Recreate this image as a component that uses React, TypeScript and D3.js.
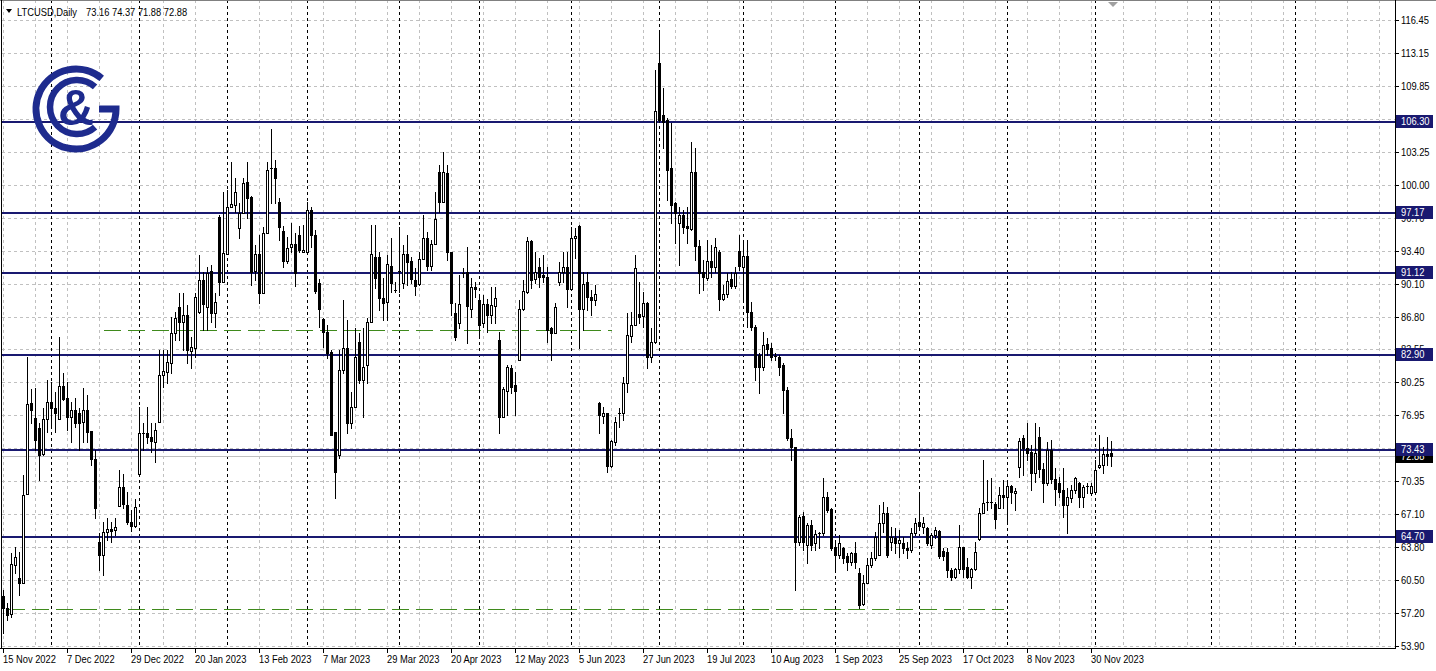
import React from 'react';
import * as d3 from 'd3';

type OHLC = [number, number, number, number]; // open, high, low, close

const symbolLabel = 'LTCUSD,Daily';
const headerValues = ['73.16', '74.37', '71.88', '72.88'];

const nov2022: OHLC[] = [
  [58.85, 59.45, 55.15, 57.65], [57.65, 58.15, 56.45, 56.95], [57.05, 63.15, 56.75, 62.05], [61.95, 63.75, 61.15, 62.75],
  [60.65, 63.25, 58.95, 60.15], [60.15, 70.95, 60.15, 68.95], [69.05, 82.75, 69.05, 78.05], [78.15, 79.55, 76.15, 77.45],
  [76.65, 79.65, 73.45, 74.45], [75.65, 76.15, 70.45, 72.95], [73.05, 77.65, 72.95, 76.55], [76.55, 80.45, 75.25, 78.25],
];
const dec2022: OHLC[] = [
  [78.25, 80.25, 75.65, 77.65], [77.65, 79.25, 75.25, 77.15], [76.55, 84.75, 76.55, 79.85], [79.85, 81.15, 78.45, 78.55],
  [78.65, 80.25, 75.45, 76.75], [76.75, 78.25, 74.25, 77.45], [77.45, 78.65, 75.75, 76.15], [77.15, 77.65, 73.45, 76.15],
  [76.25, 79.65, 74.25, 77.45], [77.45, 78.95, 74.25, 75.25], [75.35, 75.35, 71.95, 72.55], [72.55, 73.45, 66.65, 67.65],
  [64.25, 65.15, 61.45, 62.95], [62.95, 66.25, 60.95, 65.25], [65.25, 66.65, 64.45, 65.55], [65.55, 66.25, 64.25, 65.35],
  [65.45, 66.65, 64.95, 65.75], [67.85, 71.45, 67.85, 69.75], [69.75, 71.05, 67.65, 68.05], [67.95, 69.25, 66.05, 66.25],
  [66.25, 67.45, 65.35, 65.85], [65.85, 68.55, 65.75, 67.75],
];
const jan2023: OHLC[] = [
  [71.05, 77.75, 71.05, 75.15], [75.05, 76.15, 73.45, 75.15], [75.15, 77.75, 74.15, 74.75], [74.75, 76.15, 73.25, 74.35],
  [74.25, 76.15, 72.25, 75.45], [76.25, 83.45, 76.25, 80.95], [80.95, 83.45, 79.75, 81.35], [81.25, 83.45, 80.15, 82.25],
  [82.15, 86.75, 81.15, 85.15], [85.15, 87.25, 84.45, 86.65], [87.75, 89.15, 84.45, 86.25], [86.25, 89.15, 83.45, 86.95],
  [86.95, 87.95, 82.15, 83.45], [83.35, 84.75, 81.65, 83.75], [83.65, 89.15, 82.75, 88.75], [87.25, 92.95, 87.15, 90.45],
  [90.45, 91.25, 85.45, 88.05], [87.75, 91.75, 85.45, 91.15], [91.35, 91.95, 86.25, 87.15], [87.15, 89.15, 85.75, 88.25],
  [96.75, 96.95, 88.95, 90.25], [90.25, 99.25, 90.25, 93.15],
];
const feb2023: OHLC[] = [
  [93.05, 99.45, 93.05, 97.75], [97.75, 102.25, 97.75, 98.05], [97.95, 100.65, 97.25, 99.25], [95.65, 98.15, 94.65, 97.15],
  [97.15, 100.65, 97.15, 100.15], [100.25, 102.25, 96.65, 98.65], [98.75, 98.85, 89.95, 91.25], [91.35, 93.95, 90.45, 93.05],
  [93.05, 94.95, 88.15, 89.15], [89.15, 95.75, 89.15, 95.15], [95.15, 102.25, 95.15, 101.45], [101.55, 105.55, 98.15, 101.65],
  [101.65, 102.45, 98.15, 100.65], [98.25, 98.65, 94.45, 95.75], [95.35, 95.85, 91.75, 92.35], [92.35, 94.75, 92.15, 93.65],
  [93.75, 96.15, 93.25, 94.05], [94.05, 95.15, 89.85, 91.15], [94.95, 95.85, 93.25, 93.45], [93.25, 95.95, 93.25, 93.45],
];
const mar2023: OHLC[] = [
  [93.25, 98.25, 93.15, 97.45], [97.45, 97.75, 93.75, 94.95], [94.95, 95.45, 89.15, 89.35], [90.15, 90.55, 85.75, 87.55],
  [86.55, 86.65, 83.75, 85.25], [85.25, 85.95, 82.65, 83.15], [83.25, 83.45, 74.95, 74.95], [75.25, 75.25, 68.65, 71.25],
  [72.95, 83.45, 72.65, 81.45], [81.45, 88.45, 81.15, 83.65], [83.65, 86.45, 75.15, 76.15], [76.15, 79.25, 75.65, 77.75],
  [77.75, 85.65, 77.75, 82.75], [84.25, 85.15, 80.15, 80.45], [80.45, 85.65, 76.75, 81.75], [81.95, 86.65, 80.15, 86.25],
  [86.25, 95.95, 86.25, 93.05], [92.75, 95.95, 89.65, 90.65], [92.75, 93.25, 87.45, 88.65], [88.65, 90.65, 86.45, 88.15],
  [88.25, 92.95, 86.45, 92.05], [91.85, 94.65, 89.25, 90.15], [89.45, 90.25, 89.25, 89.45],
];
const apr2023: OHLC[] = [
  [91.35, 95.75, 89.25, 91.35], [90.15, 93.95, 89.65, 93.05], [93.05, 94.95, 89.95, 92.25], [92.35, 92.75, 90.15, 90.55],
  [90.45, 91.65, 88.95, 89.85], [90.05, 93.25, 89.95, 92.55], [92.55, 96.95, 92.55, 94.65], [94.65, 95.25, 91.45, 91.85],
  [91.85, 94.45, 91.45, 94.05], [94.05, 99.25, 94.05, 96.55], [101.25, 101.95, 97.25, 98.25], [98.25, 103.25, 98.25, 101.25],
  [101.15, 101.95, 92.45, 93.25], [93.25, 93.25, 86.95, 88.15], [87.15, 88.15, 84.45, 84.75], [86.15, 90.95, 85.65, 88.05],
  [91.15, 91.65, 90.75, 91.15], [91.25, 93.75, 84.15, 87.85], [87.55, 90.65, 86.75, 89.75], [89.75, 90.25, 88.75, 89.55],
];
const may2023: OHLC[] = [
  [88.45, 88.95, 84.75, 85.95], [86.15, 88.95, 85.75, 88.05], [88.05, 88.55, 85.25, 86.95], [86.95, 89.75, 86.15, 87.95],
  [87.85, 89.75, 86.15, 88.65], [84.45, 85.25, 75.15, 76.75], [76.75, 79.75, 76.75, 79.55], [79.35, 81.95, 76.95, 81.75],
  [81.65, 81.95, 79.15, 79.75], [79.95, 81.25, 76.95, 79.35], [82.45, 88.45, 82.45, 87.55], [87.55, 90.45, 87.45, 89.35],
  [89.25, 94.75, 89.15, 94.35], [94.35, 94.45, 89.65, 90.45], [90.55, 93.25, 90.15, 91.25], [91.75, 92.65, 89.75, 90.75],
  [90.95, 92.95, 90.25, 90.75], [90.75, 91.75, 84.25, 85.45], [85.65, 85.75, 82.45, 85.15], [85.15, 88.15, 85.15, 87.75],
  [90.25, 92.25, 89.95, 91.25], [91.25, 93.25, 90.25, 91.75], [91.75, 93.25, 87.75, 89.55],
];
const jun2023: OHLC[] = [
  [89.55, 95.75, 89.45, 94.65], [94.65, 95.65, 92.65, 94.85], [95.85, 95.95, 83.65, 87.55], [87.55, 91.25, 85.45, 90.05],
  [90.25, 91.25, 87.45, 88.75], [88.75, 89.45, 86.95, 88.45], [88.45, 89.95, 87.95, 89.05], [78.15, 78.25, 75.15, 76.95],
  [76.85, 77.75, 76.15, 77.15], [77.15, 77.15, 71.25, 71.85], [71.85, 74.45, 71.75, 74.35], [74.25, 76.75, 73.95, 76.25],
  [77.15, 77.65, 75.75, 77.15], [77.15, 80.75, 76.45, 80.15], [80.15, 87.15, 79.25, 84.95], [84.85, 87.25, 84.25, 85.95],
  [85.95, 92.95, 85.95, 91.65], [87.05, 90.25, 86.15, 86.75], [86.85, 89.25, 85.75, 88.15], [88.15, 88.25, 81.65, 82.75],
  [82.75, 85.65, 82.25, 84.25], [84.25, 111.45, 84.15, 107.35],
];
const jul2023: OHLC[] = [
  [112.15, 115.15, 106.25, 106.45], [106.95, 109.65, 103.65, 106.25], [106.45, 106.65, 98.45, 101.45], [101.65, 106.15, 96.15, 97.95],
  [98.15, 98.25, 94.15, 97.15], [96.15, 97.75, 91.95, 96.95], [96.95, 97.45, 95.15, 95.75], [95.85, 97.75, 94.15, 95.65],
  [95.55, 104.25, 95.45, 101.25], [101.25, 103.65, 92.45, 93.85], [93.85, 94.45, 89.15, 91.15], [91.25, 92.45, 89.45, 90.75],
  [90.65, 94.45, 90.45, 92.35], [92.35, 93.95, 90.75, 91.75], [91.75, 94.65, 91.25, 93.75], [93.25, 93.45, 87.45, 88.55],
  [88.55, 89.95, 88.45, 89.05], [89.05, 91.15, 88.75, 90.35], [90.55, 91.25, 89.65, 89.85], [89.85, 91.75, 89.65, 91.15],
  [93.35, 94.95, 91.45, 91.85],
];
const aug2023: OHLC[] = [
  [91.75, 94.45, 88.25, 92.85], [92.85, 94.45, 85.75, 87.25], [87.25, 88.25, 85.45, 85.75], [85.75, 85.95, 80.45, 81.75],
  [82.95, 83.15, 79.15, 81.75], [81.75, 85.25, 81.45, 83.95], [84.05, 84.65, 82.95, 83.55], [83.65, 84.15, 82.45, 82.75],
  [82.85, 83.15, 82.45, 82.85], [82.75, 82.95, 80.95, 81.75], [81.95, 82.15, 77.15, 79.45], [79.45, 79.75, 74.45, 74.65],
  [74.65, 75.55, 72.45, 73.75], [73.75, 73.75, 59.45, 64.25], [64.25, 66.95, 63.95, 66.75], [66.85, 67.25, 63.45, 64.25],
  [63.95, 66.15, 62.15, 65.95], [65.95, 66.45, 63.45, 63.95], [64.15, 65.45, 63.45, 65.05], [65.15, 65.25, 63.65, 65.15],
  [65.15, 70.65, 64.95, 68.75], [68.75, 69.25, 67.25, 67.45], [67.55, 67.65, 63.45, 63.65],
];
const sep2023: OHLC[] = [
  [63.75, 64.45, 61.45, 62.95], [62.95, 64.95, 62.65, 64.15], [63.65, 63.75, 62.15, 62.65], [62.85, 63.15, 61.45, 62.25],
  [62.25, 63.25, 61.95, 63.15], [63.15, 64.25, 61.65, 62.25], [61.15, 61.65, 57.65, 57.95], [58.05, 60.95, 57.95, 60.15],
  [60.15, 62.65, 60.15, 61.95], [61.95, 63.25, 61.75, 62.65], [62.65, 65.25, 62.45, 64.75], [62.95, 67.95, 62.95, 66.15],
  [66.15, 68.25, 65.25, 67.15], [67.15, 67.75, 62.75, 62.95], [64.25, 65.75, 63.45, 64.75], [64.65, 65.65, 63.15, 64.15],
  [64.15, 65.45, 62.75, 64.45], [64.15, 64.75, 63.15, 63.65], [63.65, 64.25, 62.65, 63.45], [63.45, 65.65, 63.25, 65.15],
  [65.15, 66.65, 64.95, 66.15],
];
const oct2023: OHLC[] = [
  [66.25, 68.95, 65.75, 65.85], [65.75, 66.75, 65.15, 66.15], [65.65, 65.75, 63.95, 64.15], [63.95, 65.15, 63.65, 64.95],
  [64.95, 65.75, 64.65, 65.45], [65.35, 65.45, 62.65, 62.85], [63.35, 63.65, 62.45, 62.85], [63.25, 63.65, 60.75, 61.45],
  [61.45, 61.65, 60.45, 60.75], [60.75, 61.65, 60.65, 61.55], [61.55, 65.95, 61.15, 63.75], [63.75, 63.75, 60.75, 61.55],
  [61.75, 62.65, 60.65, 60.75], [60.75, 61.65, 59.65, 61.55], [61.55, 64.25, 61.45, 63.25], [64.55, 67.65, 64.45, 67.15],
  [67.15, 72.45, 67.15, 68.15], [68.15, 70.45, 67.45, 68.25], [68.25, 70.65, 67.65, 68.15], [68.05, 68.25, 65.65, 66.55],
  [67.65, 69.75, 67.65, 68.95], [68.95, 70.45, 67.65, 68.75],
];
const nov2023: OHLC[] = [
  [68.75, 70.25, 66.25, 69.85], [69.85, 69.95, 68.15, 69.25], [69.15, 69.65, 67.45, 69.35], [71.75, 74.65, 70.75, 74.35],
  [74.65, 74.95, 70.95, 73.65], [73.65, 76.15, 72.45, 73.15], [73.25, 73.95, 69.45, 71.15], [71.15, 76.15, 70.25, 73.15],
  [74.75, 75.75, 70.75, 71.55], [71.55, 72.15, 68.25, 70.15], [70.15, 74.25, 69.95, 73.45], [73.45, 74.45, 70.15, 70.55],
  [70.55, 71.65, 67.95, 69.55], [70.15, 70.75, 68.75, 69.25], [69.45, 71.65, 66.75, 67.95], [67.95, 69.65, 65.15, 68.75],
  [68.65, 69.95, 68.25, 69.45], [69.45, 70.75, 69.15, 70.65], [70.15, 70.25, 67.75, 68.75], [68.75, 69.95, 67.75, 69.75],
  [69.85, 70.15, 69.15, 69.75], [69.15, 70.15, 68.95, 69.85],
];
const dec2023: OHLC[] = [
  [69.25, 72.45, 69.15, 71.45], [71.75, 74.95, 71.65, 71.95], [71.95, 73.75, 71.15, 73.05], [73.05, 74.75, 71.95, 72.85],
  [73.16, 74.37, 71.88, 72.88],
];

const priceTicks = [116.45, 113.15, 109.85, 106.55, 103.25, 100.0, 96.7, 93.4, 90.1, 86.8, 83.55, 80.25, 76.95, 73.65, 70.35, 67.1, 63.8, 60.5, 57.2, 53.9];
const levelPrices = [106.3, 97.17, 91.12, 82.9, 73.43, 64.7];
const bidPrice = 72.88;
const supportPrices = [85.5, 57.6];
const supportFromBar = [25, 1];
const supportToBar = [152, 250];
const futureSeparatorBars = [302, 323];

const candles: OHLC[] = [
  ...nov2022, ...dec2022, ...jan2023, ...feb2023, ...mar2023, ...apr2023, ...may2023,
  ...jun2023, ...jul2023, ...aug2023, ...sep2023, ...oct2023, ...nov2023, ...dec2023,
];

const dates: Date[] = d3.timeDay
  .range(new Date(2022, 10, 15), new Date(2023, 11, 8))
  .filter((d) => d.getDay() % 6 !== 0);

const SX = 0.85;

function T({ x, y, children, fill = '#000', dy }: { x: number; y: number; children: React.ReactNode; fill?: string; dy?: string }) {
  return (
    <text transform={`translate(${x},${y}) scale(${SX},1)`} dy={dy} fontSize={11} fill={fill} style={{ whiteSpace: 'pre' }}>
      {children}
    </text>
  );
}

export default function App() {
  const width = 1436;
  const height = 671;
  const axisX = 1395;
  const axisY = 648;
  const visibleBars = 348;
  const x = d3.scaleLinear().domain([0, visibleBars]).range([3.5, 3.5 + 4 * visibleBars]);
  const y = d3.scaleLinear().domain([53.75, 118.15]).range([647, 3]);
  const py = (p: number) => Math.round(y(p));
  const fmtDate = d3.timeFormat('%-d %b %Y');
  const font = "'Liberation Sans', Arial, sans-serif";
  const navy = '#191970';
  const logoBlue = '#1e2b8e';

  const gridBars = d3.range(0, visibleBars, 8);
  const labelBars = d3.range(0, dates.length, 16);
  const monthStarts = dates
    .map((d, i) => (i > 0 && d.getMonth() !== dates[i - 1].getMonth() ? i : -1))
    .filter((i) => i >= 0)
    .concat(futureSeparatorBars);

  const G_cx = 76, G_cy = 109, G_r = 40;
  const gStart = (-50 * Math.PI) / 180;
  const gPath = `M ${G_cx + G_r * Math.cos(gStart)} ${G_cy + G_r * Math.sin(gStart)} A ${G_r} ${G_r} 0 1 0 ${G_cx + G_r} ${G_cy} L ${G_cx + 23} ${G_cy}`;
  const C_cx = 77, C_cy = 107, C_r = 27;
  const cA = (48 * Math.PI) / 180;
  const cPath = `M ${C_cx + C_r * Math.cos(-cA)} ${C_cy + C_r * Math.sin(-cA)} A ${C_r} ${C_r} 0 1 0 ${C_cx + C_r * Math.cos(cA)} ${C_cy + C_r * Math.sin(cA)}`;

  return (
    <svg
      width={width}
      height={height}
      style={{ position: 'absolute', left: 0, top: 0, display: 'block' }}
      fontFamily={font}
    >
      <rect x={0} y={0} width={width} height={height} fill="#ffffff" />
      <g shapeRendering="crispEdges">
        {priceTicks.map((p) => (
          <line key={'hg' + p} x1={2} x2={axisX} y1={py(p) + 0.5} y2={py(p) + 0.5} stroke="#c0c0c0" strokeDasharray="3,3" />
        ))}
        {gridBars.map((b) => (
          <line key={'vg' + b} x1={x(b)} x2={x(b)} y1={0} y2={axisY} stroke="#c0c0c0" strokeDasharray="3,3" />
        ))}
        {monthStarts.map((b) => (
          <line key={'ms' + b} x1={x(b)} x2={x(b)} y1={0} y2={axisY} stroke="#000000" strokeDasharray="3,3" />
        ))}
        {supportPrices.map((p, i) => (
          <line key={'sp' + i} x1={x(supportFromBar[i])} x2={x(supportToBar[i])} y1={py(p) + 0.5} y2={py(p) + 0.5} stroke="#3f8a1c" strokeDasharray="17,7" />
        ))}
        <line x1={2} x2={axisX} y1={py(bidPrice) + 0.5} y2={py(bidPrice) + 0.5} stroke="#c0c0c0" />
        {levelPrices.map((p) => (
          <line key={'lv' + p} x1={1} x2={axisX} y1={py(p)} y2={py(p)} stroke={navy} strokeWidth={2} />
        ))}
        {candles.map((c, i) => {
          const [o, h, l, cl] = c;
          const cx = x(i);
          const top = py(Math.max(o, cl));
          const bot = py(Math.min(o, cl));
          const hiY = Math.min(py(h), top);
          const loY = Math.max(py(l), bot);
          const bull = cl >= o;
          return (
            <g key={'c' + i}>
              <line x1={cx} x2={cx} y1={hiY} y2={loY + 1} stroke="#000" />
              {bot - top <= 1 ? (
                <line x1={cx - 1.5} x2={cx + 1.5} y1={top + 0.5} y2={top + 0.5} stroke="#000" />
              ) : bull ? (
                <rect x={cx - 1} y={top + 0.5} width={2} height={bot - top} fill="#fff" stroke="#000" />
              ) : (
                <rect x={cx - 1.5} y={top} width={3} height={bot - top + 1} fill="#000" />
              )}
            </g>
          );
        })}
        <line x1={0} x2={width} y1={0.5} y2={0.5} stroke="#808080" />
        <line x1={1.5} x2={1.5} y1={0} y2={axisY} stroke="#000" />
        <line x1={axisX + 0.5} x2={axisX + 0.5} y1={0} y2={axisY + 1} stroke="#000" />
        <line x1={0} x2={axisX + 1} y1={axisY + 0.5} y2={axisY + 0.5} stroke="#000" />
        {priceTicks.map((p) => (
          <line key={'pt' + p} x1={axisX + 1} x2={axisX + 4} y1={py(p) + 0.5} y2={py(p) + 0.5} stroke="#000" />
        ))}
        {labelBars.map((b) => (
          <line key={'dt' + b} x1={x(b)} x2={x(b)} y1={axisY + 1} y2={axisY + 5} stroke="#000" />
        ))}
      </g>
      {priceTicks.map((p) => (
        <T key={'pl' + p} x={axisX + 6} y={py(p)} dy="0.36em">
          {p.toFixed(2)}
        </T>
      ))}
      <rect x={axisX + 1} y={py(bidPrice) - 6} width={37} height={13} fill="#000" shapeRendering="crispEdges" />
      <T x={axisX + 6} y={py(bidPrice) + 0.5} dy="0.36em" fill="#fff">
        {bidPrice.toFixed(2)}
      </T>
      {levelPrices.map((p) => (
        <g key={'ll' + p}>
          <rect x={axisX + 1} y={py(p) - 7} width={37} height={13} fill={navy} shapeRendering="crispEdges" />
          <T x={axisX + 6} y={py(p) - 0.5} dy="0.36em" fill="#fff">
            {p.toFixed(2)}
          </T>
        </g>
      ))}
      {labelBars.map((b) => (
        <T key={'dl' + b} x={x(b) - 0.5} y={663}>
          {fmtDate(dates[b])}
        </T>
      ))}
      <path d="M 6 9 L 12 9 L 9 13 Z" fill="#000" />
      <T x={17} y={16}>{symbolLabel}</T>
      <T x={86} y={16}>{headerValues.join(' ')}</T>
      <path d="M 1108 2 L 1118 2 L 1113 7 Z" fill="#a0a0a0" />
      <g>
        <path d={gPath} fill="none" stroke={logoBlue} strokeWidth={7} />
        <path d={cPath} fill="none" stroke={logoBlue} strokeWidth={6.5} />
        <text x={76} y={125} textAnchor="middle" fontSize={50} fontWeight="bold" fontFamily="'Liberation Sans', sans-serif" fill={logoBlue}>
          &amp;
        </text>
      </g>
    </svg>
  );
}
